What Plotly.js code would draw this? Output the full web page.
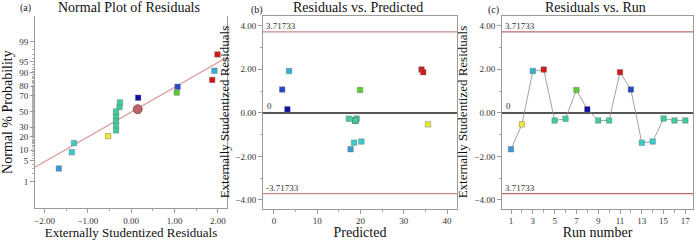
<!DOCTYPE html>
<html>
<head>
<meta charset="utf-8">
<script src="https://cdn.plot.ly/plotly-3.0.1.min.js"></script>
<style>
  html, body { margin: 0; padding: 0; background: #fff; }
  #chart { width: 696px; height: 240px; }
</style>
</head>
<body>
<div id="chart"></div>
<script>
// Residual diagnostics for a 17-run design
const runs = [1, 2, 3, 4, 5, 6, 7, 8, 9, 10, 11, 12, 13, 14, 15, 16, 17];
const residuals = [-1.67, -0.53, 1.92, 1.99, -0.35, -0.27, 1.05, 0.16, -0.35, -0.35, 1.87, 1.07, -1.37, -1.32, -0.26, -0.35, -0.35];
const predicted = [17.7, 35.6, 3.5, 34.1, 18.8, 17.3, 19.9, 3.1, 18.8, 18.8, 34.5, 1.9, 18.5, 20.2, 19.1, 18.8, 18.8];
const runColors = ['#3a9ad0', '#e8e838', '#35aed0', '#d01818', '#3ccf9c', '#3ccf9c', '#5ccc34', '#0c0ca6',
                   '#3ccf9c', '#3ccf9c', '#d01818', '#2448cc', '#38cccc', '#38cccc', '#3ccf9c', '#3ccf9c', '#3ccf9c'];

// Normal probability plot: cumulative % for the ordered residuals
const normalPct = [2.9, 8.8, 14.7, 20.6, 26.5, 32.4, 38.2, 44.1, 50.0, 55.9, 61.8, 67.6, 73.5, 79.4, 85.3, 91.2, 97.1];
const fitLineX = [-2.22, 2.21];
const fitLinePct = [3.2, 96.4];
const centerX = [0.15];
const centerPct = [53];
const probTicks = [1, 5, 10, 20, 30, 50, 70, 80, 90, 95, 99];

// Outlier limits
const limit = 3.71733;

const serif = 'Liberation Serif, Times New Roman, serif';

// Inverse standard normal CDF (Acklam)
function normInv(p) {
  const a = [-3.969683028665376e+01, 2.209460984245205e+02, -2.759285104469687e+02, 1.383577518672690e+02, -3.066479806614716e+01, 2.506628277459239e+00];
  const b = [-5.447609879822406e+01, 1.615858368580409e+02, -1.556989798598866e+02, 6.680131188771972e+01, -1.328068155288572e+01];
  const c = [-7.784894002430293e-03, -3.223964580411365e-01, -2.400758277161838e+00, -2.549732539343734e+00, 4.374664141464968e+00, 2.938163982698783e+00];
  const d = [7.784695709041462e-03, 3.224671290700398e-01, 2.445134137142996e+00, 3.754408661907416e+00];
  const pl = 0.02425, ph = 1 - pl;
  let q, r;
  if (p < pl) {
    q = Math.sqrt(-2 * Math.log(p));
    return (((((c[0]*q+c[1])*q+c[2])*q+c[3])*q+c[4])*q+c[5]) / ((((d[0]*q+d[1])*q+d[2])*q+d[3])*q+1);
  } else if (p <= ph) {
    q = p - 0.5; r = q * q;
    return (((((a[0]*r+a[1])*r+a[2])*r+a[3])*r+a[4])*r+a[5])*q / (((((b[0]*r+b[1])*r+b[2])*r+b[3])*r+b[4])*r+1);
  } else {
    q = Math.sqrt(-2 * Math.log(1 - p));
    return -(((((c[0]*q+c[1])*q+c[2])*q+c[3])*q+c[4])*q+c[5]) / ((((d[0]*q+d[1])*q+d[2])*q+d[3])*q+1);
  }
}
const zOf = pct => normInv(pct / 100);

// Order the residuals for the normal plot
const order = runs.map((_, i) => i).sort((i, j) => residuals[i] - residuals[j]);
const sortedRes = order.map(i => residuals[i]);
const sortedCol = order.map(i => runColors[i]);

const minorPct = [];
for (let k = 1; k <= 99; k++) minorPct.push(k);

const squareMarker = (colors) => ({
  symbol: 'square', size: 5.5, color: colors,
  line: { color: 'rgba(110,110,110,0.7)', width: 0.6 }
});

const traces = [
  // (a) normal plot
  { x: fitLineX, y: fitLinePct.map(zOf), xaxis: 'x', yaxis: 'y', mode: 'lines',
    line: { color: '#d89c9c', width: 1.3 }, hoverinfo: 'skip' },
  { x: sortedRes, y: normalPct.map(zOf), xaxis: 'x', yaxis: 'y', mode: 'markers',
    marker: squareMarker(sortedCol) },
  { x: centerX, y: centerPct.map(zOf), xaxis: 'x', yaxis: 'y', mode: 'markers',
    marker: { symbol: 'circle', size: 9, color: '#bb6464', line: { color: '#8a4040', width: 0.8 } } },
  // (b) residuals vs predicted
  { x: predicted, y: residuals, xaxis: 'x2', yaxis: 'y2', mode: 'markers',
    marker: squareMarker(runColors) },
  // (c) residuals vs run
  { x: runs, y: residuals, xaxis: 'x3', yaxis: 'y3', mode: 'lines+markers',
    line: { color: '#8c8c8c', width: 0.8 }, marker: squareMarker(runColors) }
];

const tickFont = { family: serif, size: 9, color: '#333' };
const xTitleFont = { family: serif, size: 13, color: '#111' };
const yTitleFont = { family: serif, size: 13, color: '#111' };
const axisBase = {
  showgrid: false, zeroline: false, showline: true, linecolor: '#9a9a9a', linewidth: 1,
  ticks: 'outside', ticklen: 4, tickcolor: '#9a9a9a', tickfont: tickFont,
  minor: { ticks: 'outside', ticklen: 2, tickcolor: '#aaa' }
};

const yDom = [0.131, 0.935];

const layout = {
  width: 696, height: 240,
  margin: { l: 0, r: 0, t: 0, b: 0 },
  paper_bgcolor: '#fff', plot_bgcolor: '#fff',
  showlegend: false,
  font: { family: serif },
  xaxis: Object.assign({}, axisBase, {
    domain: [35 / 696, 227 / 696], anchor: 'y', range: [-2.22, 2.21],
    tickvals: [-2, -1, 0, 1, 2], tickformat: '.2f', mirror: false,
    minor: { ticks: 'outside', ticklen: 2, tickcolor: '#aaa', dtick: 0.5 },
    title: { text: 'Externally Studentized Residuals', font: xTitleFont, standoff: 4 }
  }),
  yaxis: Object.assign({}, axisBase, {
    domain: [0.133, 0.933], anchor: 'x', range: [-3.21, 3.17], mirror: true,
    tickvals: probTicks.map(zOf), ticktext: probTicks.map(String),
    minor: { ticks: 'outside', ticklen: 2, tickcolor: '#b0b0b0', tickvals: minorPct.map(zOf) },
    title: { text: 'Normal % Probability', font: { family: serif, size: 14, color: '#111' }, standoff: 5 }
  }),
  xaxis2: Object.assign({}, axisBase, {
    domain: [263 / 696, 457 / 696], anchor: 'y2', range: [-2.54, 42.3], mirror: true,
    dtick: 10, minor: { ticks: 'outside', ticklen: 2, tickcolor: '#aaa', dtick: 5 },
    title: { text: 'Predicted', font: { family: serif, size: 14, color: '#111' }, standoff: 3 }
  }),
  yaxis2: Object.assign({}, axisBase, {
    domain: yDom, anchor: 'x2', range: [-4.40, 4.47], mirror: true,
    dtick: 2, tickformat: '.2f', zeroline: true, zerolinecolor: '#555', zerolinewidth: 1.5,
    minor: { ticks: 'outside', ticklen: 2, tickcolor: '#aaa', dtick: 1 },
    title: { text: 'Externally Studentized Residuals', font: yTitleFont, standoff: 2 }
  }),
  xaxis3: Object.assign({}, axisBase, {
    domain: [502 / 696, 693 / 696], anchor: 'y3', range: [0.17, 17.7], mirror: true,
    tick0: 1, dtick: 2, minor: { ticks: 'outside', ticklen: 3, tickcolor: '#aaa', dtick: 1 },
    title: { text: 'Run number', font: { family: serif, size: 14, color: '#111' }, standoff: 3 }
  }),
  yaxis3: Object.assign({}, axisBase, {
    domain: yDom, anchor: 'x3', range: [-4.40, 4.47], mirror: true,
    dtick: 2, tickformat: '.2f', zeroline: true, zerolinecolor: '#555', zerolinewidth: 1.5,
    minor: { ticks: 'outside', ticklen: 2, tickcolor: '#aaa', dtick: 1 },
    title: { text: 'Externally Studentized Residuals', font: yTitleFont, standoff: 3 }
  }),
  shapes: [
    { type: 'line', xref: 'x2 domain', yref: 'y2', x0: 0, x1: 1, y0: limit, y1: limit, line: { color: '#c98a8a', width: 1.3 } },
    { type: 'line', xref: 'x2 domain', yref: 'y2', x0: 0, x1: 1, y0: -limit, y1: -limit, line: { color: '#c98a8a', width: 1.3 } },
    { type: 'line', xref: 'x3 domain', yref: 'y3', x0: 0, x1: 1, y0: limit, y1: limit, line: { color: '#c06a6a', width: 1.3 } },
    { type: 'line', xref: 'x3 domain', yref: 'y3', x0: 0, x1: 1, y0: -limit, y1: -limit, line: { color: '#c06a6a', width: 1.3 } }
  ],
  annotations: []
};

const ann = layout.annotations;
const small = { family: serif, size: 9, color: '#333' };
// limit and zero labels
[['x2', 'y2', limit.toFixed(5)], ['x2', 'y2', (-limit).toFixed(5)], ['x3', 'y3', limit.toFixed(5)], ['x3', 'y3', limit.toFixed(5)]]
  .forEach((d, i) => {
    ann.push({ xref: d[0] + ' domain', yref: d[1], x: 0.005, y: (i % 2 === 0 ? limit : -limit),
      text: d[2], showarrow: false, xanchor: 'left', yanchor: 'bottom', yshift: -1, font: small });
  });
['x2', 'x3'].forEach((xa, i) => {
  ann.push({ xref: xa + ' domain', yref: i === 0 ? 'y2' : 'y3', x: 0.01, y: 0, text: '0',
    showarrow: false, xanchor: 'left', yanchor: 'bottom', yshift: 0, font: small });
});
// panel titles and letters
const panelTitles = [
  ['Normal Plot of Residuals', 129], ['Residuals vs. Predicted', 358], ['Residuals vs. Run', 595]
];
panelTitles.forEach(t => ann.push({ xref: 'paper', yref: 'paper', x: t[1] / 696, y: 1 - 8 / 240,
  text: t[0], showarrow: false, xanchor: 'center', yanchor: 'middle', font: { family: serif, size: 14, color: '#111' } }));
[['(a)', 25, 8], ['(b)', 257, 10], ['(c)', 493, 10]].forEach(t => ann.push({ xref: 'paper', yref: 'paper',
  x: t[1] / 696, y: 1 - t[2] / 240, text: t[0], showarrow: false, xanchor: 'center', yanchor: 'middle',
  font: { family: serif, size: 10, color: '#222' } }));

Plotly.newPlot('chart', traces, layout, { staticPlot: true, displayModeBar: false });
</script>
</body>
</html>
